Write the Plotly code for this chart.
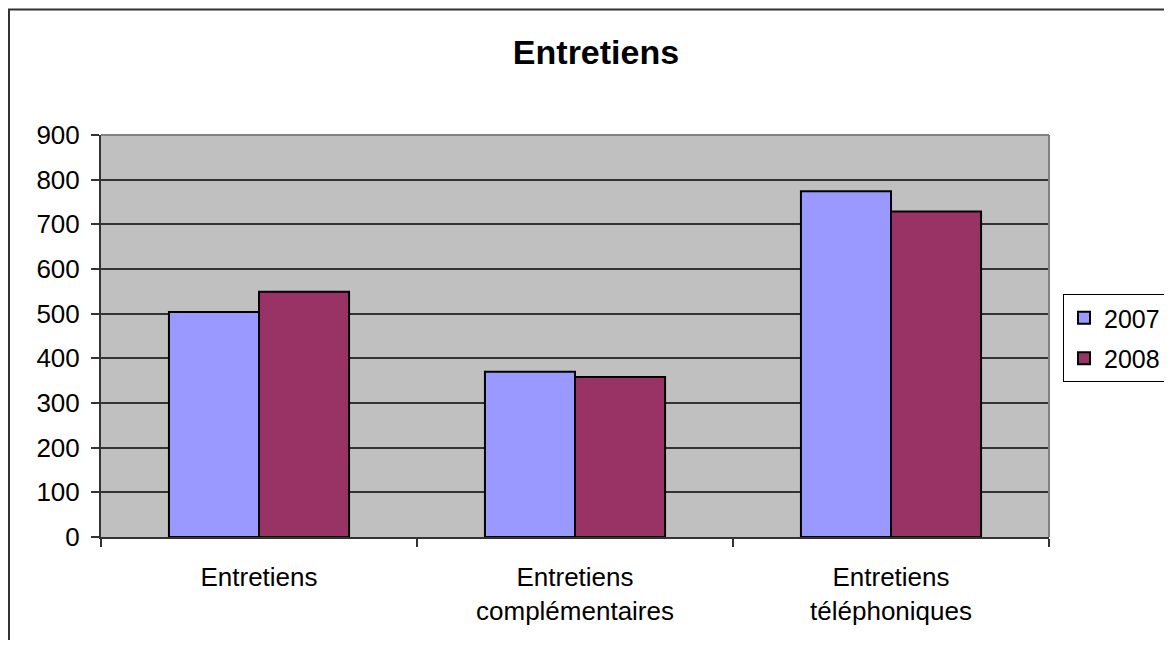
import plotly.graph_objects as go

categories = ["Entretiens", "Entretiens<br>complémentaires", "Entretiens<br>téléphoniques"]
series_names = ["2007", "2008"]
values_2007 = [504, 370, 774]
values_2008 = [549, 358, 729]
colors = ["#9999FF", "#993366"]
y_ticks = [0, 100, 200, 300, 400, 500, 600, 700, 800, 900]

FONT = "Liberation Sans, Arial, sans-serif"

fig = go.Figure()
for name, vals, col in zip(series_names, [values_2007, values_2008], colors):
    fig.add_trace(go.Bar(
        x=categories, y=vals, name=name, legendgroup=name,
        marker=dict(color=col, line=dict(color="#000000", width=2)),
    ))

# page body has an 8px margin, so the figure is laid out in page coords offset by 8
OFF = 8
W, H = 1190, 648 - 2 * OFF
L, T = 101 - OFF, 135 - OFF
pw, ph = 948, 402
R = W - L - pw
B = H - T - ph

def px_x(p):
    return (p - OFF - L) / pw

def px_y(p):
    return (T + ph - (p - OFF)) / ph

fig.update_layout(
    width=W, height=H,
    margin=dict(l=L, r=R, t=T, b=B),
    paper_bgcolor="white",
    plot_bgcolor="#C0C0C0",
    barmode="group",
    bargap=0.43,
    bargroupgap=0,
    font=dict(family=FONT, size=26, color="#000000"),
    title=dict(
        text="<b>Entretiens</b>",
        x=(596 - OFF) / W, xref="container", xanchor="center",
        y=1 - (52 - OFF) / H, yref="container", yanchor="middle",
        font=dict(family=FONT, size=34, color="#000000"),
    ),
    xaxis=dict(
        type="category",
        showline=True, linecolor="#333333", linewidth=2,
        ticks="outside", tickson="boundaries", ticklen=8, tickcolor="#333333", tickwidth=1.5,
        showgrid=False,
        ticklabelstandoff=16,
        tickfont=dict(family=FONT, size=26, color="#000000"),
    ),
    yaxis=dict(
        range=[0, 900],
        tickvals=y_ticks,
        showline=True, linecolor="#333333", linewidth=2,
        ticks="outside", ticklen=8, tickcolor="#333333", tickwidth=1.5,
        showgrid=True, gridcolor="#333333", gridwidth=1.5,
        zeroline=False,
        ticklabelstandoff=6,
        tickfont=dict(family=FONT, size=26, color="#000000"),
    ),
    legend=dict(
        x=px_x(1063), y=px_y(294), xanchor="left", yanchor="top",
        bordercolor="#000000", borderwidth=1, bgcolor="white",
        font=dict(family=FONT, size=25, color="#000000"),
        tracegroupgap=5,
    ),
    showlegend=True,
    shapes=[
        dict(type="line", xref="paper", yref="paper", x0=0, x1=1, y0=1, y1=1,
             line=dict(color="#808080", width=2), layer="above"),
        dict(type="line", xref="paper", yref="paper", x0=1, x1=1, y0=0, y1=1,
             line=dict(color="#808080", width=2), layer="above"),
        dict(type="rect", xref="paper", yref="paper",
             x0=px_x(9), x1=px_x(1250), y0=px_y(9.5), y1=px_y(700),
             line=dict(color="#333333", width=2), fillcolor="rgba(0,0,0,0)", layer="above"),
    ],
)

fig.write_html("out.html")
